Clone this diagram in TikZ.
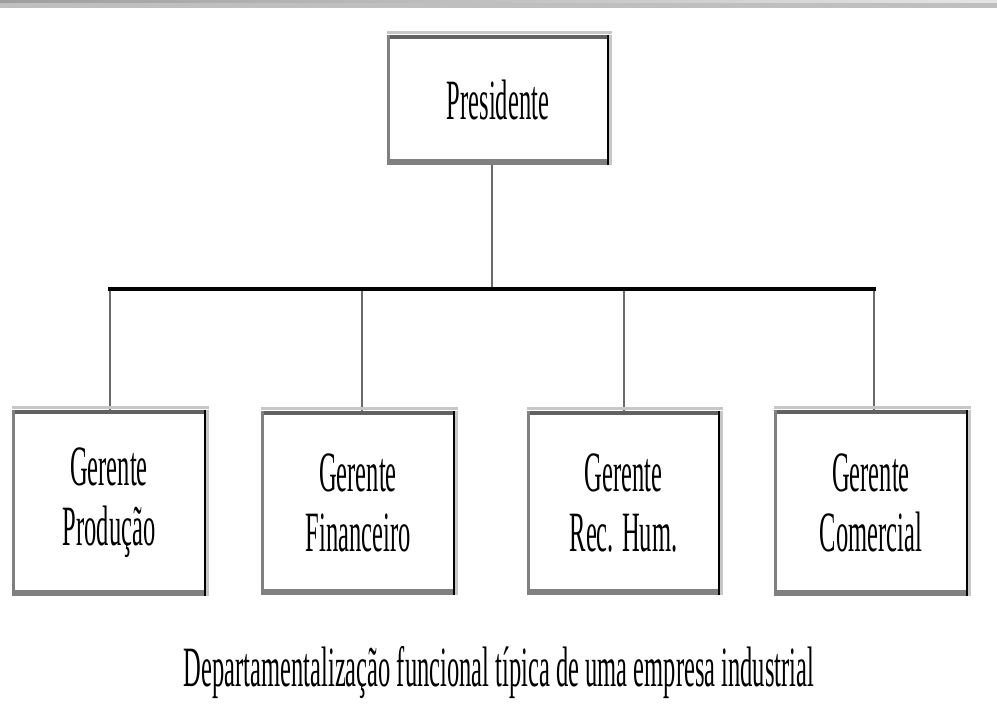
\documentclass[tikz,border=0pt]{standalone}
\usepackage{fontspec}
% narrow, tall serif used for every label
\newfontfamily\condserif[FakeStretch=0.43]{Liberation Serif}
\begin{document}
\begin{tikzpicture}[x=1pt,y=-1pt,
  box/.style={draw=none, fill=white, inner sep=0pt, align=center,
    font=\condserif\fontsize{57}{60}\selectfont},
  caption/.style={inner sep=0pt, font=\condserif\fontsize{57}{60}\selectfont},
  link/.style={line width=2.6pt, draw=black!58},
  bus/.style={line width=4pt, draw=black},
  rimlight/.style={line width=3pt, draw=black!22},
  rimtop/.style={line width=4pt, draw=black!62},
  rimbottom/.style={line width=6pt, draw=black!50},
  rimleft/.style={line width=3pt, draw=black!50},
  rimright/.style={line width=2pt, draw=black},
]
\useasboundingbox (0,0) rectangle (997,719);
\fill[white] (0,0) rectangle (997,719);

% header strip
\shade[left color=black!38, right color=black!10] (0,0) rectangle (997,3.5);
\fill[black!25] (0,3.5) rectangle (997,8);

% boxes
\node[box, minimum width=222pt, minimum height=130pt] (pres) at (498,100) {Presidente};
\node[box, minimum width=194pt, minimum height=186pt] (prod) at (109,503) {Gerente\\Produção};
\node[box, minimum width=194pt, minimum height=184pt] (fin)  at (358,503) {Gerente\\Financeiro};
\node[box, minimum width=193pt, minimum height=184pt] (rh)   at (623.5,503) {Gerente\\Rec. Hum.};
\node[box, minimum width=194pt, minimum height=186pt] (com)  at (871,503) {Gerente\\Comercial};

% connectors
\coordinate (busL) at (110,289);
\draw[link] ([xshift=-6pt]pres.south) -- ([xshift=-6pt]pres.south |- busL);
\draw[link] ([xshift=1pt]prod.north |- busL) -- ([xshift=1pt]prod.north);
\draw[link] ([xshift=4pt]fin.north |- busL) -- ([xshift=4pt]fin.north);
\draw[link] ([xshift=0.5pt]rh.north |- busL) -- ([xshift=0.5pt]rh.north);
\draw[link] ([xshift=3pt]com.north |- busL) -- ([xshift=3pt]com.north);
\draw[bus] ([xshift=-1pt]prod.north |- busL) -- ([xshift=5pt]com.north |- busL);

% box frames
\foreach \n in {pres,prod,fin,rh,com}{
  \draw[rimlight] ([yshift=2.5pt]\n.north west) -- ([yshift=2.5pt,xshift=3pt]\n.north east);
  \draw[rimlight] ([xshift=1.5pt]\n.north east) -- ([xshift=1.5pt]\n.south east);
  \draw[rimtop] ([yshift=-2pt]\n.north west) -- ([yshift=-2pt]\n.north east);
  \draw[rimbottom] ([yshift=3pt]\n.south west) -- ([yshift=3pt]\n.south east);
  \draw[rimleft] ([xshift=1.5pt]\n.north west) -- ([xshift=1.5pt]\n.south west);
  \draw[rimright] ([xshift=-1pt]\n.north east) -- ([xshift=-1pt]\n.south east);
}

% caption
\node[caption, anchor=base] (cap) at (499,686) {Departamentalização funcional típica de uma empresa industrial};
\end{tikzpicture}
\end{document}
